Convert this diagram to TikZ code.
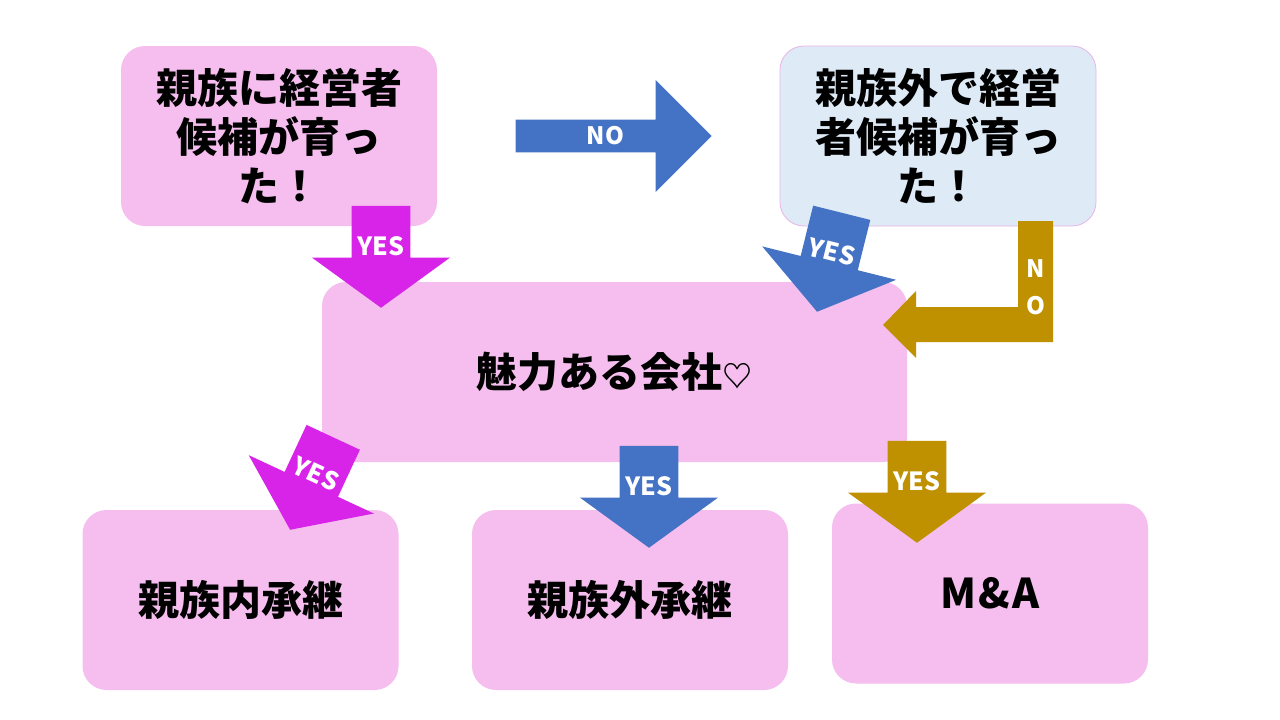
\documentclass[tikz,border=0pt]{standalone}
\usepackage{fontspec}
\setmainfont{Noto Sans CJK JP}
\usetikzlibrary{shapes.arrows}
\definecolor{boxpink}{RGB}{245,190,238}
\definecolor{boxblue}{RGB}{222,235,247}
\definecolor{boxline}{RGB}{232,180,232}
\definecolor{arrblue}{RGB}{68,114,196}
\definecolor{arrmag}{RGB}{216,36,232}
\definecolor{arrgold}{RGB}{191,144,0}
\tikzset{
  qbox/.style={rounded corners=24pt, fill=boxpink, minimum width=316pt, minimum height=180pt,
    align=center, inner sep=0pt, font=\fontsize{41}{49}\selectfont\bfseries},
  yesarrow/.style={single arrow, shape border rotate=270, anchor=tip, minimum width=138pt,
    minimum height=102pt, single arrow head extend=34.5pt, single arrow tip angle=108,
    inner sep=2pt, text=white, font=\fontsize{25}{25}\selectfont\bfseries},
  noarrow/.style={single arrow, anchor=tip, minimum width=112pt, minimum height=196pt,
    single arrow head extend=28pt, single arrow tip angle=90, inner sep=2pt,
    text=white, font=\fontsize{24}{24}\selectfont\bfseries},
}
\begin{document}
\begin{tikzpicture}[x=1pt,y=-1pt]
                \useasboundingbox (0,0) rectangle (1280,720);
                \fill[white] (0,0) rectangle (1280,720);
                % boxes
                \node[qbox] (kin) at (279,136) {親族に経営者\\候補が育っ\\た！};
                \node[qbox, fill=boxblue, draw=boxline, line width=0.8pt] (outer) at (938,136) {親族外で経営\\者候補が育っ\\た！};
                \node[qbox, minimum width=585pt] (firm) at (614.5,372) {魅力ある会社{\fontsize{30}{30}\selectfont ♡}};
                \node[qbox] (inkin) at (240.5,600) {親族内承継};
                \node[qbox] (outkin) at (630,600) {親族外承継};
                \node[qbox] (ma) at (990,593.5) {M\kern2pt\&\kern2pt A};
                % arrows
                \node[noarrow, fill=arrblue] (no1) at (712,136) {NO};
                \node[yesarrow, fill=arrmag] (yes1) at (381,308) {YES};
                \node[yesarrow, fill=arrblue, rotate=-14] (yes2) at (817,312) {YES};
                \node[yesarrow, fill=arrmag, rotate=-25] (yes3) at (290,530) {YES};
                \node[yesarrow, fill=arrblue] (yes4) at (649,548) {YES};
                \node[yesarrow, fill=arrgold] (yes5) at (917,543) {YES};
                \fill[arrgold] (1018,221) -- (1053,221) -- (1053,342) -- (916,342) -- (916,358)
                  -- (883,325) -- (916,291) -- (916,307) -- (1018,307) -- cycle;
                \node[text=white, align=center, font=\fontsize{24}{37}\selectfont\bfseries] (no2) at (1036,287) {N\\O};
\end{tikzpicture}
\end{document}
